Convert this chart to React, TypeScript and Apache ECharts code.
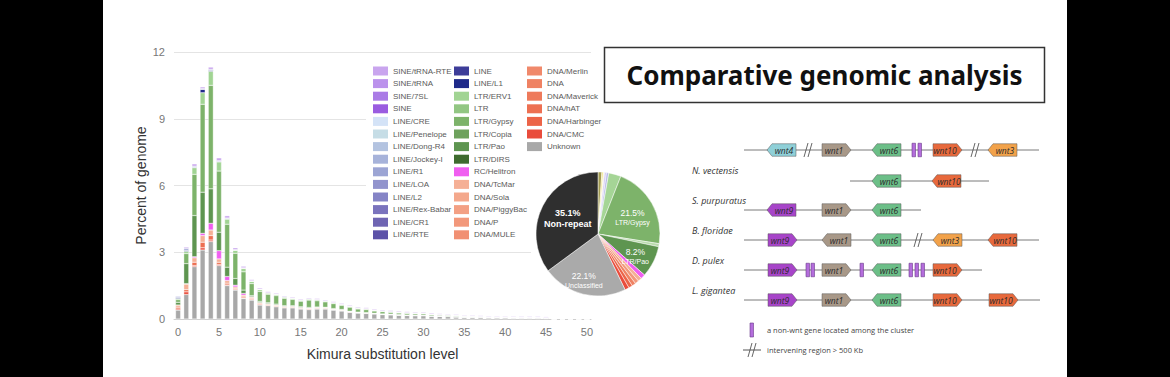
import React, { useEffect, useRef } from "react";
import * as echarts from "echarts";

// ---------- bar chart data ----------
const categories = [
  "0","1","2","3","4","5","6","7","8","9","10","11","12","13","14","15","16","17","18","19","20",
  "21","22","23","24","25","26","27","28","29","30","31","32","33","34","35","36","37","38","39","40",
  "41","42","43","44","45","46","47","48","49","50",
];

const legendCol1 = [
  "SINE/tRNA-RTE","SINE/tRNA","SINE/7SL","SINE","LINE/CRE","LINE/Penelope","LINE/Dong-R4",
  "LINE/Jockey-I","LINE/R1","LINE/LOA","LINE/L2","LINE/Rex-Babar","LINE/CR1","LINE/RTE",
];
const legendCol2 = [
  "LINE","LINE/L1","LTR/ERV1","LTR","LTR/Gypsy","LTR/Copia","LTR/Pao","LTR/DIRS",
  "RC/Helitron","DNA/TcMar","DNA/Sola","DNA/PiggyBac","DNA/P","DNA/MULE",
];
const legendCol3 = ["DNA/Merlin","DNA","DNA/Maverick","DNA/hAT","DNA/Harbinger","DNA/CMC","Unknown"];

const unknownData = [0.4,1.1,2.35,3.1,3.48,2.4,1.5,1.3,0.92,0.85, 0.63,0.6,0.55,0.5,0.5,0.45,0.42,0.45,0.45,0.4, 0.36,0.3,0.27,0.25,0.23,0.2,0.19,0.17,0.16,0.15, 0.15,0.13,0.12,0.11,0.1,0.08,0.08,0.07,0.06,0.06, 0.06,0.05,0.05,0.05,0.05,0.04,0,0,0,0,0];
const dnaCmcData = [0.05,0.12,0.05,0.1,0.07,0.05,0.03,0.02,0.02,0.02, 0.01,0.01,0.01,0.01,0.01,0.01,0.01,0.01,0.01,0.01, 0.01,0,0,0,0,0,0,0,0,0, 0,0,0,0,0,0,0,0,0,0, 0,0,0,0,0,0,0,0,0,0,0];
const dnaHatData = [0.08,0.1,0.15,0.25,0.2,0.1,0.08,0.05,0.05,0.04, 0.04,0.03,0.03,0.03,0.03,0.03,0.03,0.03,0.03,0.02, 0.02,0.02,0.02,0.02,0.01,0.01,0.01,0.01,0.01,0.01, 0.01,0.01,0.01,0.01,0,0,0,0,0,0, 0,0,0,0,0,0,0,0,0,0,0];
const dnaTcMarData = [0.1,0.25,0.2,0.3,0.25,0.15,0.12,0.07,0.08,0.07, 0.05,0.04,0.04,0.03,0.03,0.03,0.03,0.03,0.02,0.02, 0.02,0.02,0.01,0.01,0.01,0.01,0.01,0.01,0.01,0.01, 0.01,0,0,0,0,0,0,0,0,0, 0,0,0,0,0,0,0,0,0,0,0];
const helitronData = [0,0.02,0.05,0.1,0.3,0.37,0.18,0.08,0.08,0.02, 0.01,0.01,0,0,0,0,0,0,0,0, 0,0,0,0,0,0,0,0,0,0, 0,0,0,0,0,0,0,0,0,0, 0,0,0,0,0,0,0,0,0,0,0];
const paoData = [0.12,0.9,1.85,1.85,1.55,0.83,0.42,0.3,0.15,0.05, 0.05,0.04,0.04,0.03,0.03,0.03,0.03,0.02,0.02,0.02, 0.02,0.01,0.01,0.01,0.01,0.01,0.01,0.01,0,0, 0,0,0,0,0,0,0,0,0,0, 0,0,0,0,0,0,0,0,0,0,0];
const gypsyData = [0.12,0.45,1.85,3.95,4.65,2.75,1.93,1.13,0.82,0.54, 0.45,0.38,0.38,0.33,0.28,0.25,0.33,0.28,0.24,0.22, 0.18,0.18,0.14,0.13,0.1,0.1,0.08,0.07,0.07,0.06, 0.06,0.05,0.04,0.04,0.03,0.02,0.02,0.02,0.01,0.01, 0.01,0.01,0,0,0,0,0,0,0,0,0];
const erv1Data = [0.05,0.1,0.3,0.52,0.63,0.41,0.23,0.14,0.15,0.1, 0.08,0.06,0.06,0.06,0.05,0.05,0.05,0.05,0.04,0.04, 0.04,0.04,0.04,0.04,0.03,0.03,0.03,0.03,0.03,0.02, 0.02,0.02,0.02,0.02,0.02,0.02,0.01,0.01,0.01,0.01, 0.01,0.01,0.01,0.01,0.01,0.01,0,0,0,0,0];
const lineL1Data = [0.04,0.05,0.03,0.15,0.05,0.02,0.02,0.01,0.01,0.01, 0.01,0,0,0,0,0,0,0,0,0, 0,0,0,0,0,0,0,0,0,0, 0,0,0,0,0,0,0,0,0,0, 0,0,0,0,0,0,0,0,0,0,0];
const lineData = [0,0,0,0,0,0,0,0,0,0, 0,0,0,0,0,0,0,0,0,0, 0,0,0,0,0,0,0,0,0,0, 0,0.01,0.01,0.01,0.01,0.01,0.01,0.01,0.01,0.01, 0.01,0.01,0.01,0.01,0.01,0.01,0,0,0,0,0];
const lineR1Data = [0.06,0.08,0.04,0.04,0.04,0.04,0.03,0.02,0.02,0.02, 0.01,0.01,0.01,0.01,0.01,0.01,0.01,0.01,0.01,0.01, 0.01,0.01,0.01,0.01,0.01,0.01,0.01,0.01,0.01,0.01, 0.01,0.01,0.01,0.01,0.01,0.01,0.01,0.01,0.01,0.01, 0.01,0.01,0.01,0.01,0.01,0.01,0,0,0,0,0];
const sineRteData = [0.02,0.06,0.1,0.07,0.1,0.12,0.1,0.08,0.07,0.05, 0.05,0.05,0.04,0.04,0.04,0.04,0.04,0.04,0.04,0.04, 0.04,0.04,0.04,0.04,0.04,0.04,0.04,0.04,0.04,0.04, 0.04,0.04,0.03,0.03,0.03,0.03,0.03,0.03,0.03,0.03, 0.03,0.03,0.03,0.03,0.03,0.03,0,0,0,0,0];

const seriesData: Record<string, number[]> = {
  "Unknown": unknownData,
  "DNA/CMC": dnaCmcData,
  "DNA/hAT": dnaHatData,
  "DNA/TcMar": dnaTcMarData,
  "RC/Helitron": helitronData,
  "LTR/Pao": paoData,
  "LTR/Gypsy": gypsyData,
  "LTR/ERV1": erv1Data,
  "LINE/L1": lineL1Data,
  "LINE": lineData,
  "LINE/R1": lineR1Data,
  "SINE/tRNA-RTE": sineRteData,
};

// ---------- pie data ----------
const pieNames = [
  "Satellite","Low complexity","Simple repeat","SINE (all)","LINE (all)","LTR/ERV1 ","LTR/Gypsy ",
  "LTR/Copia ","LTR/Pao ","RC/Helitron ","DNA/TcMar ","DNA/P ","DNA/hAT ","DNA/Harbinger ","DNA/CMC ",
  "Unclassified","Non-repeat",
];
const pieValues = [1.0,0.4,0.3,0.5,0.6,3.2,21.5,0.8,8.2,1.2,1.0,1.0,1.0,1.0,1.1,22.1,35.1];

// ---------- styles ----------
const colors: Record<string, string> = {
  "SINE/tRNA-RTE": "#c9a5ee", "SINE/tRNA": "#bb92ec", "SINE/7SL": "#aa7be6", "SINE": "#9a5ce0",
  "LINE/CRE": "#d4e3f7", "LINE/Penelope": "#c6dde6", "LINE/Dong-R4": "#b3c3e0", "LINE/Jockey-I": "#a7b3da",
  "LINE/R1": "#9ca5d4", "LINE/LOA": "#9294cd", "LINE/L2": "#8584c6", "LINE/Rex-Babar": "#7a73bd",
  "LINE/CR1": "#6f65b3", "LINE/RTE": "#5c52a8", "LINE": "#3d3d99", "LINE/L1": "#1f2a8a",
  "LTR/ERV1": "#a1d493", "LTR": "#92c683", "LTR/Gypsy": "#7db36a", "LTR/Copia": "#6ea25d",
  "LTR/Pao": "#5e9550", "LTR/DIRS": "#3e6b2e", "RC/Helitron": "#f05ef0",
  "DNA/TcMar": "#f5b096", "DNA/Sola": "#f4a88c", "DNA/PiggyBac": "#f3a084", "DNA/P": "#f2987b",
  "DNA/MULE": "#f19073", "DNA/Merlin": "#f0896b", "DNA": "#ef8263", "DNA/Maverick": "#ee7a5b",
  "DNA/hAT": "#ed7052", "DNA/Harbinger": "#ec6448", "DNA/CMC": "#e94c3c", "Unknown": "#a8a8a8",
};
const pieColors = [
  "#a39c52","#efe27a","#f4f0d0","#d2c8f2","#b8bce8","#a5d596","#7db36a","#b9dbad","#5e9550",
  "#f05ef0","#f5b096","#f2987b","#ef8263","#ec6448","#e94c3c","#aaaaaa","#2f2f2f",
];

const geneColors: Record<string, string> = {
  wnt4: "#8fd0d8", wnt1: "#a89888", wnt6: "#6cbf88", wnt10: "#e8693c", wnt3: "#f2a24a", wnt9: "#a744c9",
};

// diagram rows: [kind, name/x ...]
type Item = [string, string, number, string] | [string, number];
const diagramRows: { y: number; from: number; to: number; items: Item[] }[] = [
  { y: 150, from: 744, to: 1039, items: [["gene","wnt4",767,"L"],["break",808],["gene","wnt1",822,"R"],["gene","wnt6",872,"L"],["bar",912],["bar",918],["gene","wnt10",933,"R"],["break",975],["gene","wnt3",988,"L"]] },
  { y: 181, from: 850, to: 989, items: [["gene","wnt6",872,"L"],["gene","wnt10",932,"L"]] },
  { y: 210, from: 744, to: 921, items: [["gene","wnt9",767,"L"],["gene","wnt1",822,"R"],["gene","wnt6",872,"L"]] },
  { y: 240, from: 744, to: 1039, items: [["gene","wnt9",768,"R"],["gene","wnt1",822,"L"],["gene","wnt6",872,"L"],["break",918],["gene","wnt3",933,"L"],["gene","wnt10",988,"L"]] },
  { y: 270, from: 744, to: 982, items: [["gene","wnt9",768,"R"],["bar",806],["bar",811],["gene","wnt1",822,"R"],["bar",860],["gene","wnt6",872,"L"],["bar",909],["bar",915],["bar",921],["gene","wnt10",933,"R"]] },
  { y: 300, from: 744, to: 1040, items: [["gene","wnt9",768,"R"],["gene","wnt1",822,"R"],["gene","wnt6",872,"L"],["gene","wnt10",933,"R"],["gene","wnt10",989,"R"]] },
];
const speciesLabels = [
  ["N. vectensis", 170], ["S. purpuratus", 200], ["B. floridae", 230], ["D. pulex", 260], ["L. gigantea", 290],
] as [string, number][];

function buildDiagram(): any[] {
  const els: any[] = [];
  const GW = 29, GH = 12.5, TIP = 5;
  const diagFont = "Open Sans, Noto Sans, sans-serif";
  const breakMark = (x: number, y: number) => [
    { type: "line", shape: { x1: x - 4, y1: y + 7, x2: x, y2: y - 7 }, style: { stroke: "#555", lineWidth: 0.9 }, z: 5 },
    { type: "line", shape: { x1: x, y1: y + 7, x2: x + 4, y2: y - 7 }, style: { stroke: "#555", lineWidth: 0.9 }, z: 5 },
  ];
  const ncBar = (x: number, y: number, h = 13.5) => ({
    type: "rect", shape: { x, y: y - h / 2, width: 3.5, height: h },
    style: { fill: "#b46ddc", stroke: "#6a3a8a", lineWidth: 0.6 }, z: 5,
  });
  for (const row of diagramRows) {
    const y = row.y;
    els.push({ type: "line", shape: { x1: row.from, y1: y, x2: row.to, y2: y }, style: { stroke: "#7a7a7a", lineWidth: 1 }, z: 4 });
    for (const it of row.items) {
      if (it[0] === "gene") {
        const name = it[1] as string, x = it[2] as number, dir = it[3] as string;
        const pts = dir === "R"
          ? [[x, y - GH / 2], [x + GW - TIP, y - GH / 2], [x + GW, y], [x + GW - TIP, y + GH / 2], [x, y + GH / 2]]
          : [[x + GW, y - GH / 2], [x + TIP, y - GH / 2], [x, y], [x + TIP, y + GH / 2], [x + GW, y + GH / 2]];
        els.push({ type: "polygon", shape: { points: pts }, style: { fill: geneColors[name], stroke: "#5a5a5a", lineWidth: 0.5 }, z: 5 });
        const cx = dir === "R" ? x + (GW - TIP) / 2 : x + TIP + (GW - TIP) / 2;
        els.push({ type: "text", x: cx, y, style: { text: name, fill: "#2a2a2a", font: `italic 8.5px ${diagFont}`, align: "center", verticalAlign: "middle" }, z: 6 });
      } else if (it[0] === "break") {
        els.push(...breakMark(it[1] as number, y));
      } else if (it[0] === "bar") {
        els.push(ncBar(it[1] as number, y));
      }
    }
  }
  for (const [label, y] of speciesLabels) {
    els.push({ type: "text", x: 692, y, style: { text: label, fill: "#333", font: `italic 9px ${diagFont}`, verticalAlign: "middle" }, z: 6 });
  }
  // legend of diagram
  els.push(ncBar(750, 330, 14));
  els.push({ type: "text", x: 767, y: 330, style: { text: "a non-wnt gene located among the cluster", fill: "#444", font: `7.5px ${diagFont}`, verticalAlign: "middle" }, z: 6 });
  els.push({ type: "line", shape: { x1: 743, y1: 350, x2: 761, y2: 350 }, style: { stroke: "#555", lineWidth: 1 }, z: 4 });
  els.push(...breakMark(752, 350));
  els.push({ type: "text", x: 767, y: 350, style: { text: "intervening region > 500 Kb", fill: "#444", font: `7.5px ${diagFont}`, verticalAlign: "middle" }, z: 6 });
  return els;
}

export default function App() {
  const ref = useRef<HTMLDivElement>(null);
  useEffect(() => {
    if (!ref.current) return;
    const chart = echarts.init(ref.current, null, { renderer: "svg" });
    const allNames = [...legendCol1, ...legendCol2, ...legendCol3];
    const barSeries = allNames.slice().reverse().map((name) => ({
      name,
      type: "bar",
      stack: "kimura",
      barWidth: 5,
      data: seriesData[name] ?? [],
      itemStyle: { color: colors[name], borderColor: "#ffffff", borderWidth: 0.35 },
      emphasis: { disabled: true },
      z: 2,
    }));

    const labelFor = (i: number) => {
      const name = pieNames[i];
      const pct = pieValues[i].toFixed(1) + "%";
      if (name === "Non-repeat") {
        return { show: true, position: "inside", formatter: `{a|${pct}}\n{a|Non-repeat}`, rich: { a: { color: "#fff", fontSize: 9, fontWeight: "bold", fontFamily: "Liberation Sans", lineHeight: 11 } } };
      }
      const sub: Record<string, string> = { "LTR/Gypsy ": "LTR/Gypsy", "LTR/Pao ": "LTR/Pao", "Unclassified": "Unclassified" };
      const pads: Record<string, number[]> = { "LTR/Gypsy ": [0, 0, 0, 10], "LTR/Pao ": [14, 0, 0, 14], "Unclassified": [26, 12, 0, 0] };
      if (sub[name]) {
        return { show: true, position: "inside", padding: pads[name], formatter: `{a|${pct}}\n{b|${sub[name]}}`, rich: { a: { color: "#fff", fontSize: 8.5, fontFamily: "Liberation Sans", lineHeight: 10 }, b: { color: "#fff", fontSize: 7, fontFamily: "Liberation Sans", lineHeight: 9 } } };
      }
      return { show: false };
    };

    const legendBase = {
      orient: "vertical",
      top: 61,
      itemWidth: 15,
      itemHeight: 9,
      itemGap: 2.6,
      icon: "rect",
      selectedMode: false,
      itemStyle: { borderWidth: 0 },
      textStyle: { fontSize: 8, color: "#5a5a5a", fontFamily: "Liberation Sans", lineHeight: 10 },
      z: 6,
    };

    chart.setOption({
      animation: false,
      backgroundColor: "#ffffff",
      grid: { left: 174, right: 579, top: 52, bottom: 58, containLabel: false },
      xAxis: {
        type: "category",
        data: categories,
        name: "Kimura substitution level",
        nameLocation: "middle",
        nameGap: 28,
        nameTextStyle: { fontSize: 14, color: "#333", fontFamily: "Liberation Sans" },
        axisTick: { show: false },
        axisLine: { lineStyle: { color: "#cfcfcf" } },
        axisLabel: { interval: 4, color: "#777", fontSize: 11, fontFamily: "Liberation Sans", margin: 7 },
      },
      yAxis: {
        type: "value",
        min: 0,
        max: 12,
        interval: 3,
        name: "Percent of genome",
        nameLocation: "middle",
        nameGap: 26,
        nameTextStyle: { fontSize: 14, color: "#333", fontFamily: "Liberation Sans" },
        axisLabel: { color: "#777", fontSize: 11, fontFamily: "Liberation Sans", margin: 9 },
        splitLine: { lineStyle: { color: "#e4e4e4", width: 1 } },
        axisLine: { show: false },
        axisTick: { show: false },
      },
      legend: [
        { ...legendBase, left: 368, data: legendCol1 },
        { ...legendBase, left: 449, data: legendCol2 },
        { ...legendBase, left: 522, data: legendCol3 },
      ],
      series: [
        ...barSeries,
        {
          name: "Genome composition",
          type: "pie",
          center: [598, 234],
          radius: 62,
          startAngle: 90,
          clockwise: true,
          silent: true,
          z: 3,
          labelLine: { show: false },
          itemStyle: { borderColor: "#ffffff", borderWidth: 0.5 },
          data: pieNames.map((n, i) => ({ name: n, value: pieValues[i], itemStyle: { color: pieColors[i] }, label: labelFor(i) })),
        },
      ],
      graphic: [
        { type: "rect", shape: { x: 366, y: 60, width: 230, height: 183 }, style: { fill: "#ffffff" }, z: 1, silent: true },
        { type: "rect", shape: { x: 531, y: 150, width: 70, height: 162 }, style: { fill: "#ffffff" }, z: 1, silent: true },
        { type: "rect", shape: { x: 0, y: 0, width: 103, height: 377 }, style: { fill: "#000000" }, z: 10, silent: true },
        { type: "rect", shape: { x: 1067, y: 0, width: 103, height: 377 }, style: { fill: "#000000" }, z: 10, silent: true },
        { type: "rect", shape: { x: 604.5, y: 47.5, width: 440, height: 55 }, style: { fill: "#ffffff", stroke: "#333333", lineWidth: 1.5 }, z: 5, silent: true },
        { type: "text", x: 824.5, y: 75, style: { text: "Comparative genomic analysis", fill: "#111", font: "bold 26px 'Noto Sans', sans-serif", align: "center", verticalAlign: "middle" }, z: 6, silent: true },
        ...buildDiagram(),
      ],
    });
    return () => chart.dispose();
  }, []);
  return <div ref={ref} style={{ position: "fixed", left: 0, top: 0, width: 1170, height: 377 }} />;
}
